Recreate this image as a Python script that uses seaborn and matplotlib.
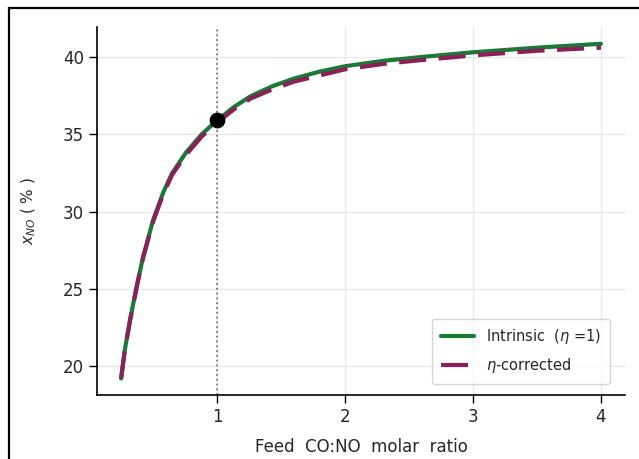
import numpy as np
import pandas as pd
import matplotlib
matplotlib.use("Agg")
import matplotlib.pyplot as plt
from matplotlib.patches import Rectangle
import seaborn as sns

# values
ratio = [0.25, 0.28, 0.32, 0.37, 0.42, 0.50, 0.58, 0.65, 0.76, 0.88, 1.00,
         1.13, 1.26, 1.43, 1.60, 1.80, 2.00, 2.30, 2.60, 3.00, 3.50, 4.00]
x_intrinsic = [19.2, 21.1, 23.0, 25.1, 27.0, 29.45, 31.25, 32.5, 33.85, 35.0, 35.9,
               36.75, 37.45, 38.1, 38.6, 39.05, 39.4, 39.75, 40.0, 40.3, 40.6, 40.85]
x_corrected = [19.2, 21.1, 22.95, 25.05, 26.95, 29.35, 31.15, 32.4, 33.7, 34.85, 35.75,
               36.6, 37.3, 37.9, 38.4, 38.8, 39.2, 39.55, 39.8, 40.1, 40.4, 40.6]
op_ratio = [1.0]
op_x = [35.9]

df = pd.DataFrame({"ratio": ratio, "intr": x_intrinsic, "corr": x_corrected})

sns.set_style("whitegrid", {"grid.color": "#e6e6e6", "axes.edgecolor": "black"})
plt.rcParams["font.family"] = ["DejaVu Sans"]

fig = plt.figure(figsize=(6.39, 4.59), dpi=100)
ax = fig.add_axes([0.152, 0.139, 0.826, 0.802])

ax.axvline(1.0, color="#7a7a7a", ls=":", lw=1.3, zorder=1)
sns.lineplot(data=df, x="ratio", y="intr", ax=ax, color="#1a7a35", lw=3,
             label=r"Intrinsic  ($\eta$ =1)", zorder=3)
sns.lineplot(data=df, x="ratio", y="corr", ax=ax, color="#8a1f5a", lw=3,
             label=r"$\eta$-corrected", zorder=4)
ax.lines[-1].set_dashes([6.5, 3])
sns.scatterplot(x=op_ratio, y=op_x, ax=ax, color="black", s=110, zorder=5,
                edgecolor="black")

ax.set_xticks([1, 2, 3, 4])
ax.set_yticks([20, 25, 30, 35, 40])
ax.tick_params(axis="both", length=6, width=1, color="black", labelsize=12,
               left=True, bottom=True)
ax.set_xlabel("Feed  CO:NO  molar  ratio", fontsize=12, labelpad=8)
ax.set_ylabel(r"$x_{NO}$ ( % )", fontsize=11, labelpad=18)
sns.despine(ax=ax)
for s in ["left", "bottom"]:
    ax.spines[s].set_linewidth(1.2)

leg = ax.legend(loc="lower right", fontsize=10.5, frameon=True,
                handlelength=2.3, borderpad=0.6, labelspacing=0.7,
                bbox_to_anchor=(0.985, 0.01))
leg.get_frame().set_edgecolor("#cccccc")

# outer frame of the cropped screenshot
fig.add_artist(Rectangle((9 / 639, -0.1), 2, 1 - 8 / 459 + 0.1,
                         transform=fig.transFigure, fill=False,
                         lw=1.6, ec="black"))

fig.savefig("out.png", dpi=100)
